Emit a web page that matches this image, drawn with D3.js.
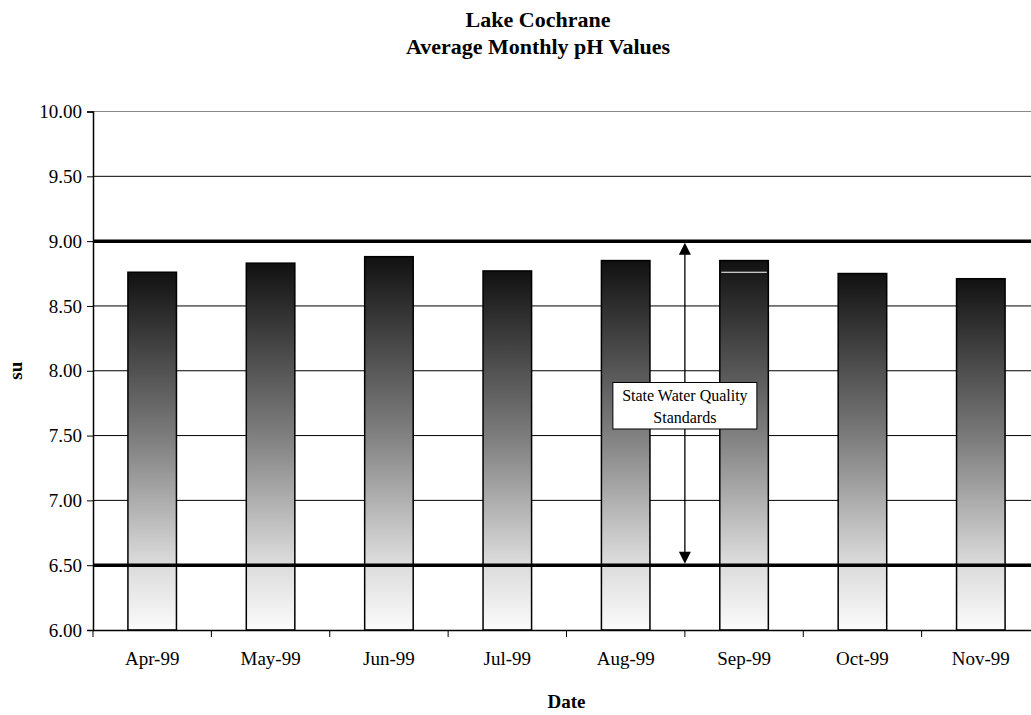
<!DOCTYPE html>
<html>
<head>
<meta charset="utf-8">
<script src="https://cdn.jsdelivr.net/npm/d3@7"></script>
<style>
	body { margin: 0; background: #fff; overflow: hidden; }
	text { font-family: "Liberation Serif", "Times New Roman", serif; fill: #000; }
</style>
</head>
<body>
<div id="plot"></div>
<script>
// chart data
var months = ["Apr-99", "May-99", "Jun-99", "Jul-99", "Aug-99", "Sep-99", "Oct-99", "Nov-99"];
var phValues = [8.76, 8.83, 8.88, 8.77, 8.85, 8.85, 8.75, 8.71];
var yTicks = [6.00, 6.50, 7.00, 7.50, 8.00, 8.50, 9.00, 9.50, 10.00];
var standards = [6.50, 9.00];
var sepMark = { month: "Sep-99", value: 8.76 }; // thin white line inside the Sep bar
var noteLines = ["State Water Quality", "Standards"];

var margin = { top: 111.5, right: 0, bottom: 85, left: 93 },
	width = 947, height = 715 - margin.top - margin.bottom;

var svg = d3.select("#plot")
	.append("svg")
	.attr("width", 1031)
	.attr("height", 715);

var defs = svg.append("defs");
var grad = defs.append("linearGradient")
	.attr("id", "barGrad")
	.attr("x1", 0).attr("y1", 0).attr("x2", 0).attr("y2", 1);
grad.append("stop").attr("offset", "0%").attr("stop-color", "#111");
grad.append("stop").attr("offset", "45%").attr("stop-color", "#7a7a7a");
grad.append("stop").attr("offset", "80%").attr("stop-color", "#d8d8d8");
grad.append("stop").attr("offset", "100%").attr("stop-color", "#fbfbfb");

var g = svg.append("g")
	.attr("transform", "translate(" + margin.left + "," + margin.top + ")");

var xScale = d3.scaleBand()
	.domain(months)
	.range([0, width])
	.paddingInner(0.59)
	.paddingOuter(0.295);

var yScale = d3.scaleLinear()
	.domain([6, 10])
	.range([height, 0]);

//gridlines
g.append("g")
	.selectAll("line")
	.data(yTicks.slice(1))
	.enter().append("line")
	.attr("x1", 0).attr("x2", width)
	.attr("y1", function (d) { return yScale(d); })
	.attr("y2", function (d) { return yScale(d); })
	.attr("stroke", function (d) { return d === 10 ? "#888" : "#000"; })
	.attr("stroke-width", 1);

//bars
g.append("g")
	.selectAll("rect")
	.data(phValues)
	.enter().append("rect")
	.attr("x", function (d, i) { return xScale(months[i]); })
	.attr("y", function (d) { return yScale(d); })
	.attr("width", xScale.bandwidth())
	.attr("height", function (d) { return yScale(6) - yScale(d); })
	.attr("fill", "url(#barGrad)")
	.attr("stroke", "#000")
	.attr("stroke-width", 1.5);

g.append("line")
	.attr("x1", xScale(sepMark.month) + 1.5)
	.attr("x2", xScale(sepMark.month) + xScale.bandwidth() - 1.5)
	.attr("y1", yScale(sepMark.value))
	.attr("y2", yScale(sepMark.value))
	.attr("stroke", "#fff")
	.attr("stroke-width", 1.2);

//standard lines
g.append("g")
	.selectAll("line")
	.data(standards)
	.enter().append("line")
	.attr("x1", 0).attr("x2", width)
	.attr("y1", function (d) { return yScale(d); })
	.attr("y2", function (d) { return yScale(d); })
	.attr("stroke", "#000")
	.attr("stroke-width", 3.5);

//axes
var yAxis = g.append("g")
	.call(d3.axisLeft(yScale).tickValues(yTicks).tickFormat(d3.format(".2f")).tickSize(6).tickPadding(5));
var xAxis = g.append("g")
	.attr("transform", "translate(0," + height + ")")
	.call(d3.axisBottom(xScale).tickSize(0).tickPadding(22));

// category boundary ticks
xAxis.selectAll(".bound")
	.data(d3.range(months.length + 1))
	.enter().append("line")
	.attr("class", "bound")
	.attr("x1", function (i) { return i * xScale.step(); })
	.attr("x2", function (i) { return i * xScale.step(); })
	.attr("y1", 0).attr("y2", 7)
	.attr("stroke", "#000");

[yAxis, xAxis].forEach(function (a) {
	a.selectAll("text")
		.attr("font-family", "Liberation Serif, Times New Roman, serif")
		.attr("font-size", "19px")
		.attr("fill", "#000");
	a.select(".domain").attr("stroke", "#000").attr("stroke-width", 1.5);
	a.selectAll(".tick line").attr("stroke", "#000");
});

//arrow between standards
var arrowX = (xScale("Aug-99") + xScale("Sep-99") + xScale.bandwidth()) / 2;
var yHi = yScale(standards[1]), yLo = yScale(standards[0]);
g.append("line")
	.attr("x1", arrowX).attr("x2", arrowX)
	.attr("y1", yHi + 10).attr("y2", yLo - 10)
	.attr("stroke", "#000").attr("stroke-width", 1.3);
g.append("path")
	.attr("d", "M" + arrowX + "," + (yHi + 1.5) + "l-6,12h12z")
	.attr("fill", "#000");
g.append("path")
	.attr("d", "M" + arrowX + "," + (yLo - 1.5) + "l-6,-12h12z")
	.attr("fill", "#000");

//label box
var boxW = 144, boxH = 46.5, boxY = 271;
g.append("rect")
	.attr("x", arrowX - boxW / 2)
	.attr("y", boxY)
	.attr("width", boxW)
	.attr("height", boxH)
	.attr("fill", "#fff")
	.attr("stroke", "#000")
	.attr("stroke-width", 1);
g.append("g")
	.selectAll("text")
	.data(noteLines)
	.enter().append("text")
	.attr("x", arrowX)
	.attr("y", function (d, i) { return boxY + 18 + i * 22.5; })
	.attr("text-anchor", "middle")
	.style("font-size", "16px")
	.text(function (d) { return d; });

//titles
svg.append("text")
	.attr("x", 538).attr("y", 27)
	.attr("text-anchor", "middle")
	.style("font-size", "22px").style("font-weight", "bold")
	.text("Lake Cochrane");
svg.append("text")
	.attr("x", 538).attr("y", 54)
	.attr("text-anchor", "middle")
	.style("font-size", "22px").style("font-weight", "bold")
	.text("Average Monthly pH Values");

svg.append("text")
	.attr("x", margin.left + width / 2).attr("y", 708)
	.attr("text-anchor", "middle")
	.style("font-size", "19px").style("font-weight", "bold")
	.text("Date");

svg.append("text")
	.attr("transform", "translate(22," + (margin.top + height / 2) + ") rotate(-90)")
	.attr("text-anchor", "middle")
	.style("font-size", "19px").style("font-weight", "bold")
	.text("su");
</script>
</body>
</html>
